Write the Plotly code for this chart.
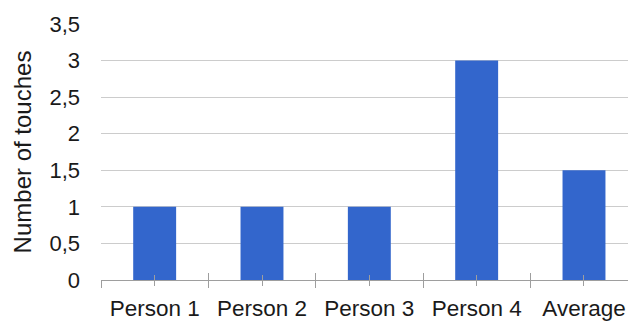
import plotly.graph_objects as go

# Touch counts per participant, plus their average
categories = ["Person 1", "Person 2", "Person 3", "Person 4", "Average"]
touches = [1, 1, 1, 3, 1.5]
y_ticks = [0, 0.5, 1, 1.5, 2, 2.5, 3, 3.5]

BAR = "#3366CC"
GRID = "#CCCCCC"
AXIS = "#9E9E9E"
TEXT = "#1A1A1A"
FONT = "Liberation Sans, Arial, sans-serif"

n = len(categories)
centers = list(range(n))
boundaries = [i - 0.5 for i in range(n + 1)]
x_range = [-0.5, n - 0.59]

fig = go.Figure()
fig.add_trace(go.Bar(x=categories, y=touches, marker_color=BAR,
                     marker_line_width=0, width=0.4))
# empty helper traces so the overlay tick axes are drawn
fig.add_trace(go.Scatter(x=[], y=[], xaxis="x2", showlegend=False))
fig.add_trace(go.Scatter(x=[], y=[], xaxis="x3", showlegend=False))

fig.update_layout(
    width=628, height=323,
    margin=dict(l=101, r=0, t=24, b=43),
    paper_bgcolor="white", plot_bgcolor="white",
    separators=",.",
    showlegend=False,
    font=dict(family=FONT, color=TEXT),
    xaxis=dict(
        type="category", categoryarray=categories, range=x_range,
        showgrid=False, showline=True, linecolor=AXIS, linewidth=1,
        ticks="outside", ticklen=5, tickcolor=AXIS,
        tickfont=dict(size=22.5, color=TEXT),
        ticklabelstandoff=3,
    ),
    xaxis2=dict(
        overlaying="x", anchor="y", type="linear", range=x_range,
        showgrid=False, showline=False, showticklabels=False, zeroline=False,
        tickmode="array", tickvals=boundaries,
        ticks="outside", ticklen=7, tickcolor=AXIS,
        minor=dict(tickmode="array", tickvals=centers, ticks="inside",
                   ticklen=5, tickcolor=AXIS, showgrid=False),
    ),
    xaxis3=dict(
        overlaying="x", anchor="y", type="linear", range=x_range,
        showgrid=False, showline=False, showticklabels=False, zeroline=False,
        tickmode="array", tickvals=boundaries,
        ticks="inside", ticklen=7, tickcolor=AXIS,
    ),
    yaxis=dict(
        range=[0, 3.5], tickmode="array", tickvals=y_ticks,
        showgrid=True, gridcolor=GRID, gridwidth=1,
        zeroline=False, showline=False, ticks="",
        tickfont=dict(size=22, color=TEXT),
        ticklabelstandoff=20,
        title=dict(text="Number of touches",
                   font=dict(size=24, color=TEXT), standoff=11),
    ),
)

fig.write_html("out.html")
